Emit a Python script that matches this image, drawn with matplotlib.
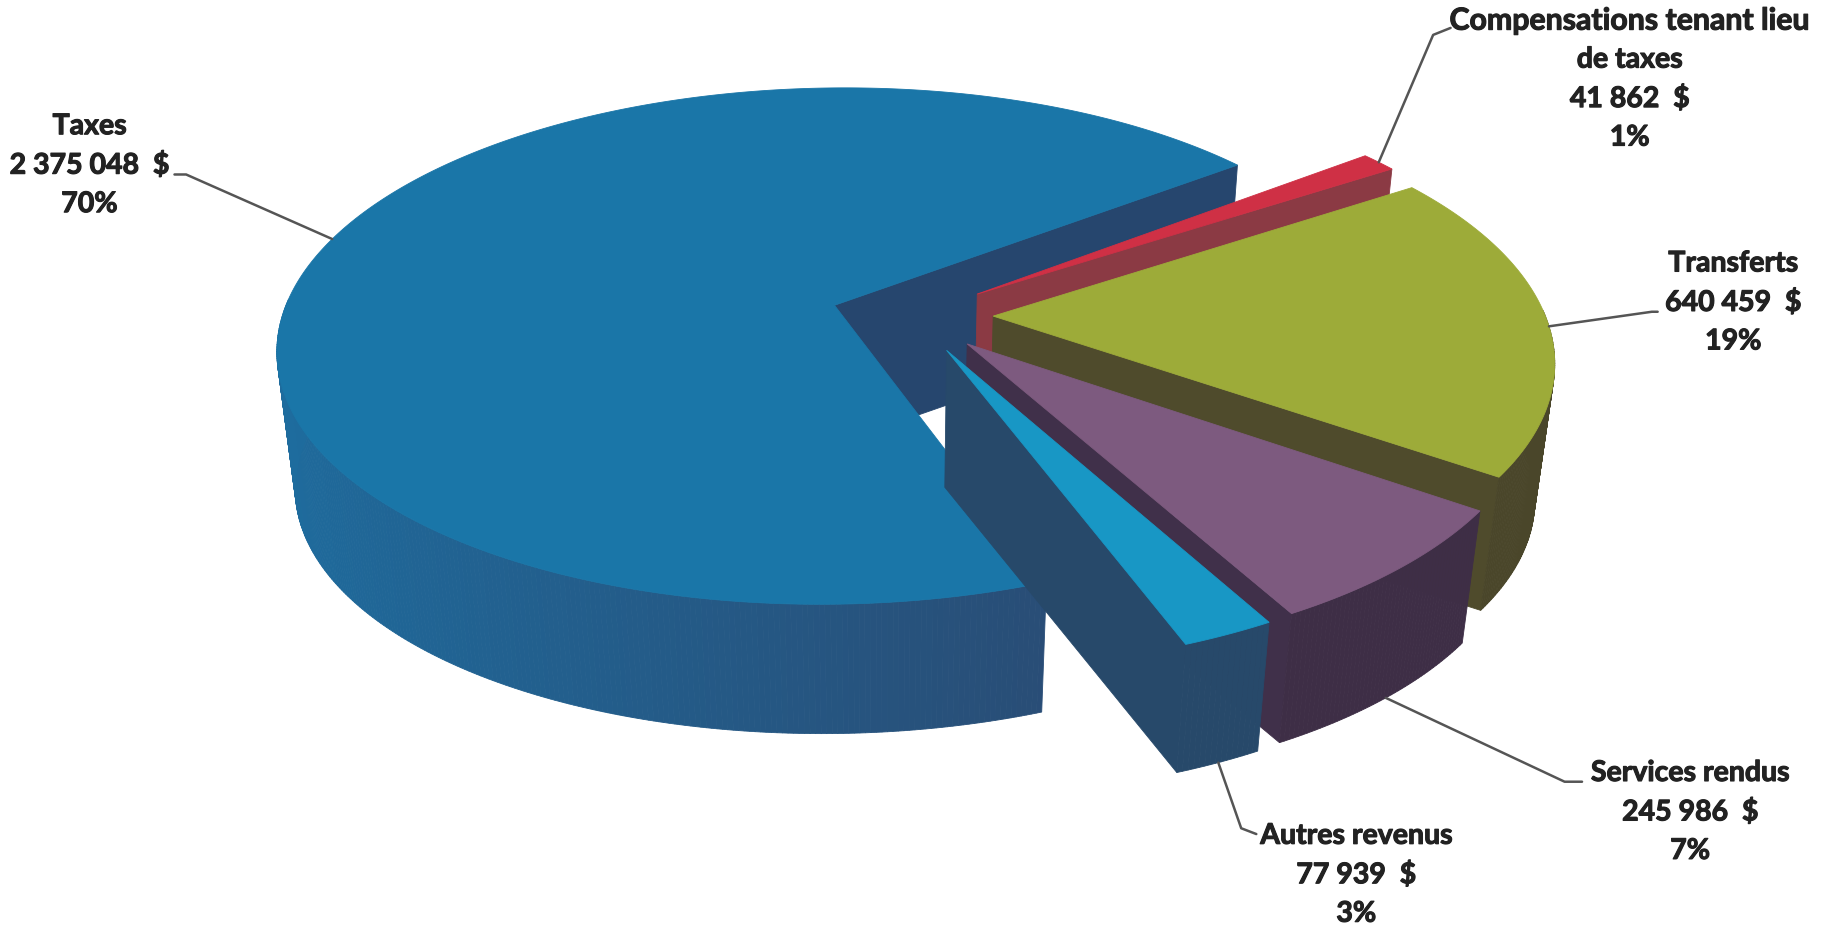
import numpy as np
import matplotlib
matplotlib.use("Agg")
import matplotlib.pyplot as plt
import matplotlib.patheffects as pe
from matplotlib.colors import to_rgb
from matplotlib.patches import Polygon

# --- data
categories = ["Taxes", "Compensations tenant lieu\nde taxes", "Transferts", "Services rendus", "Autres revenus"]
values = [2375048, 41862, 640459, 245986, 77939]
pct_labels = ["70%", "1%", "19%", "7%", "3%"]

# --- styles
top_colors = ["#1a76a8", "#cf3045", "#9dab39", "#7d5a7f", "#1897c5"]
face_colors = ["#26466e", "#8b3a44", "#4f4b2c", "#40304a", "#27496a"]
wall_light = ["#1e6c9e", "#8b3a44", "#54502c", "#443250", "#27496a"]
wall_dark = ["#2a4a72", "#8b3a44", "#4a462a", "#3e2e46", "#27496a"]
K = 1824 / 1568
label_xy = [(77, 142), (1401, 68), (1490, 260), (1453, 698), (1166, 752)]
leader_mid = [(160, 150), (1232, 30), (1420, 268), (1345, 672), (1067, 712)]
leader_end = [(150, 150), (1247, 24), (1425, 268), (1360, 672), (1080, 717)]
leader_frac = [0.50, 0.5, 0.52, 0.5, 0.5]
leader_bottom = [False, False, False, True, True]
first_line_size = [20.5, 21.8, 20.5, 20.5, 20.5]

# --- pie geometry (pixels of the output picture)
U0, V0, A, B, PK = 912.0, 315.5, 552.0, 255.0, 0.159
DEPTH, UC, SH, EXPL = 138.0, 888.0, 0.97, 0.147
START = 159.5


def project(x, y, bottom=False):
    w = 1 + PK * y
    u = U0 + A * x / w
    v = V0 - B * y / w
    if bottom:
        u = UC + (u - UC) * SH
        v = V0 + (v - V0) * SH + DEPTH
    return u, v


fig = plt.figure(figsize=(18.24, 9.27), dpi=100, facecolor="white")
ax = fig.add_axes([0, 0, 1, 1])
ax.set_xlim(0, 1824)
ax.set_ylim(927, 0)
ax.axis("off")

vals = np.array(values, float)
sweeps = vals / vals.sum() * 360
a0 = START
z = 1
anchors = []
for i, sw in enumerate(sweeps):
    a1 = a0 + sw
    mid = np.radians((a0 + a1) / 2)
    ox, oy = EXPL * np.sin(mid), EXPL * np.cos(mid)
    th = np.radians(np.linspace(a0, a1, max(4, int(sw * 2))))
    rx, ry = ox + np.sin(th), oy + np.cos(th)

    # cut faces
    for edge, sign in ((th[0], -1), (th[-1], 1)):
        nrm = edge + sign * np.pi / 2
        if np.cos(nrm) < 0.15:
            ex, ey = ox + np.sin(edge), oy + np.cos(edge)
            poly = [project(ox, oy), project(ex, ey), project(ex, ey, True), project(ox, oy, True)]
            ax.add_patch(Polygon(poly, closed=True, fc=face_colors[i], ec=face_colors[i], lw=0.6, zorder=z))
    z += 1
    # outer wall, shaded by facing direction
    cl, cd = np.array(to_rgb(wall_light[i])), np.array(to_rgb(wall_dark[i]))
    for j in range(len(th) - 1):
        tm = (th[j] + th[j + 1]) / 2
        if np.cos(tm) > 0.02:
            continue
        f = np.clip((np.sin(tm) + 1) / 1.5, 0, 1)
        col = cl * (1 - f) + cd * f
        poly = [project(rx[j], ry[j]), project(rx[j + 1], ry[j + 1]),
                project(rx[j + 1], ry[j + 1], True), project(rx[j], ry[j], True)]
        ax.add_patch(Polygon(poly, closed=True, fc=col, ec=col, lw=0.6, zorder=z))
    z += 1
    # top
    tu, tv = project(np.r_[ox, rx], np.r_[oy, ry])
    ax.add_patch(Polygon(np.c_[tu, tv], closed=True, fc=top_colors[i], ec=top_colors[i], lw=0.6, zorder=z))
    z += 1
    la = np.radians(a0 + leader_frac[i] * sw)
    anchors.append(project(ox + np.sin(la), oy + np.cos(la), leader_bottom[i]))
    a0 = a1

LINE_STEP = 33.5 * K
for i, cat in enumerate(categories):
    mx, my = leader_mid[i]
    ex, ey = leader_end[i]
    ax.plot([anchors[i][0], mx * K, ex * K], [anchors[i][1], my * K, ey * K], color="#555555", lw=1.8, zorder=z + 1,
            solid_capstyle="round")
    money = f"{values[i]:,}".replace(",", " ") + "  $"
    lines = cat.split("\n") + [money, pct_labels[i]]
    x, y = label_xy[i]
    for n, line in enumerate(lines):
        yy = y * K + (n - (len(lines) - 1) / 2) * LINE_STEP
        ax.text(x * K, yy, line, ha="center", va="center", family="Lato", fontweight="bold",
                fontsize=first_line_size[i] if n == 0 else 20.5, color="#222222", zorder=z + 2,
                path_effects=[pe.withStroke(linewidth=0.8, foreground="#222222")])

fig.savefig("out.png", dpi=100, facecolor="white")
